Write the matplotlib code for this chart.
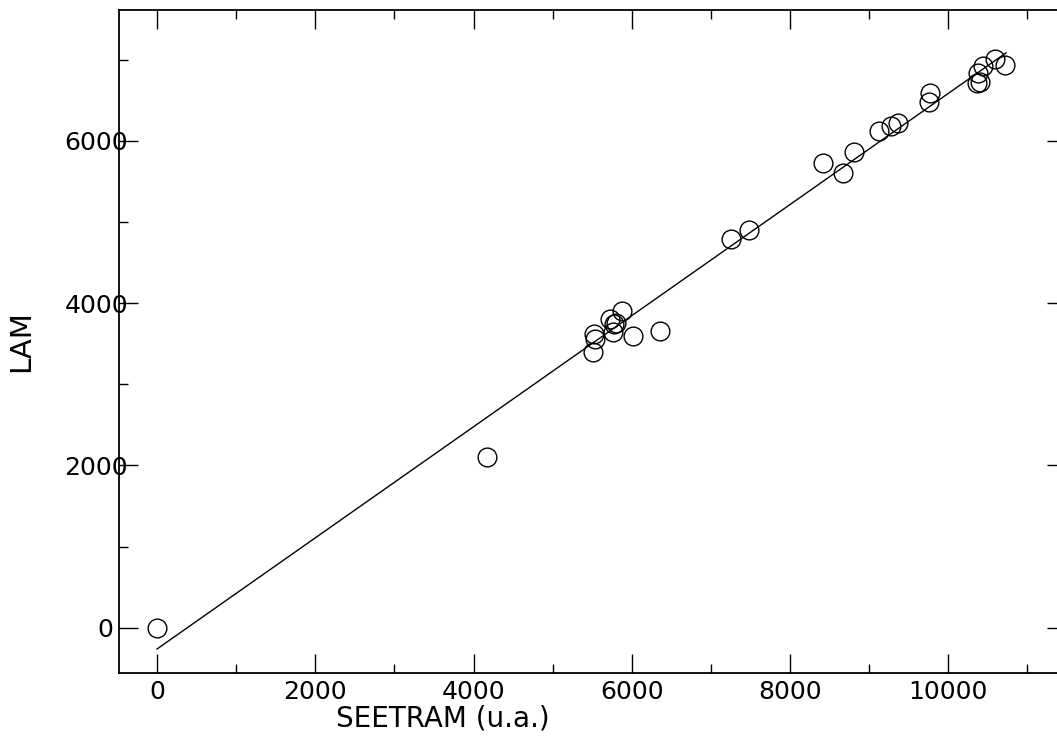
import numpy as np
import matplotlib.pyplot as plt
from matplotlib.ticker import MultipleLocator
import matplotlib.transforms as mtransforms

# points SEETRAM / LAM
seetram = [0, 4170, 5520, 5540, 5510, 5720, 5770, 5760, 5800, 5880, 6010, 6360,
           7250, 7480, 8420, 8670, 8810, 9130, 9270, 9360, 9770, 9760,
           10360, 10400, 10380, 10440, 10590, 10720]
lam = [0, 2110, 3620, 3560, 3400, 3800, 3740, 3650, 3760, 3910, 3600, 3660,
       4790, 4900, 5730, 5610, 5870, 6120, 6180, 6220, 6590, 6480,
       6720, 6730, 6840, 6930, 7010, 6940]

# droite d'ajustement
pente = 0.685
ordonnee = -263
fit_x = [0, 10730]

xticks = [0, 2000, 4000, 6000, 8000, 10000]
yticks = [0, 2000, 4000, 6000]

fig = plt.figure(figsize=(10.57, 7.38), dpi=100)
ax = fig.add_axes([119/1057, (738-672.7)/738, (1066-119)/1057, (672.7-10)/738])

ax.plot(seetram, lam, 'o', mfc='none', mec='black', ms=13.5, mew=1.0)
fx = np.array(fit_x)
ax.plot(fx, pente*fx + ordonnee, color='black', lw=1.0)

ax.set_xlim(-480, 11487)
ax.set_ylim(-555, 7615)
ax.set_xticks(xticks)
ax.set_yticks(yticks)
ax.xaxis.set_minor_locator(MultipleLocator(1000))
ax.yaxis.set_minor_locator(MultipleLocator(1000))
ax.tick_params(which='both', direction='in', top=True, right=True, width=1.0, labelsize=18)
ax.tick_params(which='major', length=13.5)
ax.tick_params(which='minor', length=6.5)
ax.tick_params(axis='x', pad=5.5)
ax.tick_params(axis='y', pad=-6.5)
for s in ax.spines.values():
    s.set_linewidth(1.3)

# le "0" de l'axe y est plus a gauche
lab0 = ax.get_yticklabels()[0]
lab0.set_transform(lab0.get_transform() + mtransforms.ScaledTranslation(-15/100, 0, fig.dpi_scale_trans))

ax.set_xlabel("SEETRAM (u.a.)", fontsize=20)
ax.set_ylabel("LAM", fontsize=21)
ax.xaxis.set_label_coords(0.342, -0.048)
ax.yaxis.set_label_coords(-0.0887, 0.5)

fig.savefig("out.png", dpi=100)
